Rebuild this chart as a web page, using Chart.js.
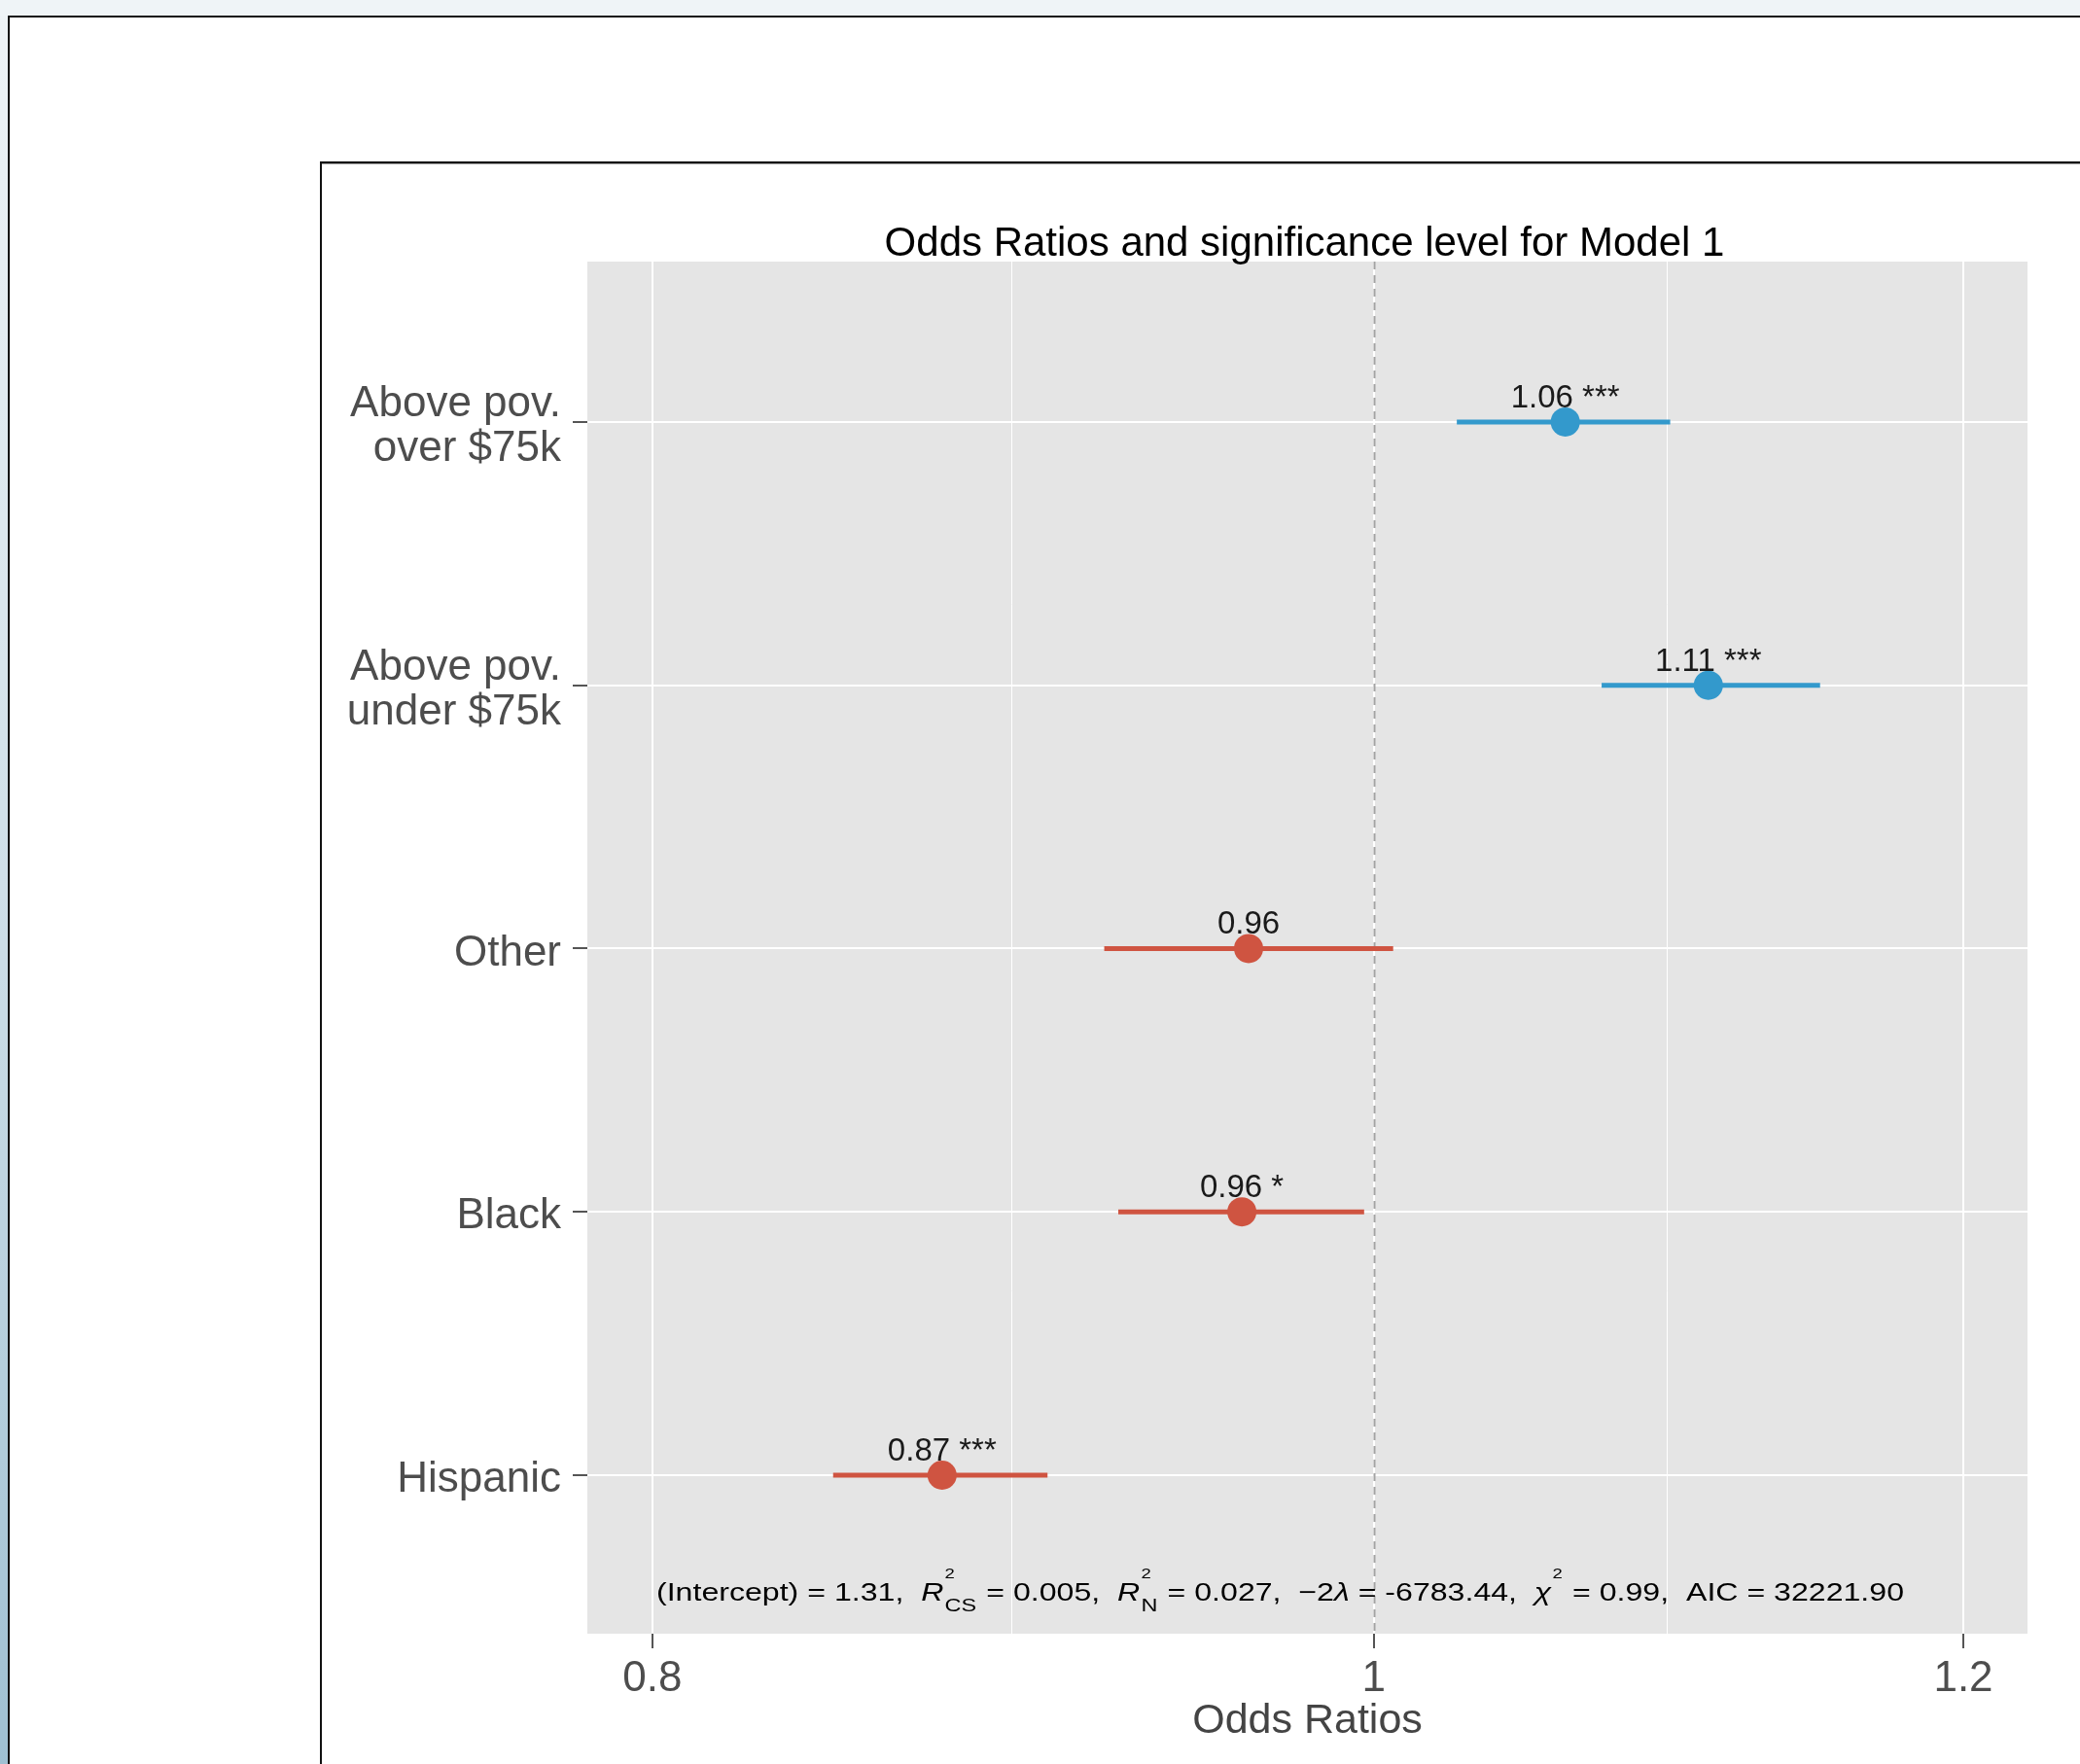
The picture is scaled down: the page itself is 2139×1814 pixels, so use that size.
<!DOCTYPE html>
<html>
<head>
<meta charset="utf-8">
<script src="https://cdn.jsdelivr.net/npm/chart.js@4.4.1/dist/chart.umd.min.js"></script>
<style>
html,body{margin:0;padding:0;background:#fff;width:2139px;height:1814px;overflow:hidden;}
#topband{position:absolute;left:0;top:0;width:2139px;height:16px;background:#eff4f7;}
#leftband{position:absolute;left:0;top:16px;width:8px;height:1798px;background:linear-gradient(#eef3f6,#cfdfe8 50%,#9fc0d2);}
#outerTop{position:absolute;left:8px;top:16px;width:2131px;height:2px;background:#111;}
#outerLeft{position:absolute;left:8px;top:16px;width:2px;height:1798px;background:#111;}
#innerTop{position:absolute;left:329px;top:166px;width:1810px;height:2px;background:#111;}
#innerTop2{position:absolute;left:331px;top:168px;width:1808px;height:1px;background:#999;}
#innerLeft{position:absolute;left:329px;top:166px;width:2px;height:1648px;background:#111;}
canvas{position:absolute;left:0;top:0;}
</style>
</head>
<body>
<div id="topband"></div>
<div id="leftband"></div>
<div id="outerTop"></div>
<div id="outerLeft"></div>
<div id="innerTop"></div>
<div id="innerTop2"></div>
<div id="innerLeft"></div>
<canvas id="c" width="2139" height="1814"></canvas>
<script>
// ---------- data ----------
const categories = [["Above pov.", "over $75k"], ["Above pov.", "under $75k"], "Other", "Black", "Hispanic"];
const oddsRatios = [1.061, 1.109, 0.962, 0.960, 0.875];
const ciLower    = [1.026, 1.073, 0.920, 0.924, 0.846];
const ciUpper    = [1.096, 1.148, 1.006, 0.997, 0.904];
const valueLabels = ["1.06", "1.11", "0.96", "0.96", "0.87"];
const significance = ["***", "***", "", "*", "***"];
const xMajorTicks = [0.8, 1, 1.2];
const xTickLabels = ["0.8", "1", "1.2"];
const xMinorTicks = [0.894, 1.095];
const chartTitle = "Odds Ratios and significance level for Model 1";
const xAxisTitle = "Odds Ratios";
const statIntercept = "1.31";
const statR2CS = "0.005";
const statR2N = "0.027";
const statM2LL = "-6783.44";
const statChi2 = "0.99";
const statAIC = "32221.90";

// ---------- styling ----------
const FONT = '"Liberation Sans", Arial, Helvetica, sans-serif';
const BLUE = '#3399cc';
const RED = '#cf5441';
const colorFor = v => v > 1 ? BLUE : RED;
const idx = categories.map((_, i) => i);
const isMajor = v => xMajorTicks.some(m => Math.abs(m - v) < 1e-9);

const ciDatasets = idx.map(i => ({
  type: 'line',
  data: [{x: ciLower[i], y: i}, {x: ciUpper[i], y: i}],
  borderColor: colorFor(oddsRatios[i]),
  borderWidth: 5,
  borderCapStyle: 'butt',
  pointRadius: 0,
  fill: false,
  order: 2
}));
const pointDataset = {
  type: 'scatter',
  data: idx.map(i => ({x: oddsRatios[i], y: i})),
  pointRadius: 15,
  pointHoverRadius: 15,
  pointBackgroundColor: idx.map(i => colorFor(oddsRatios[i])),
  pointBorderWidth: 0,
  order: 1
};

const panelPlugin = {
  id: 'panel',
  beforeDraw(chart) {
    const {ctx, chartArea: a} = chart;
    ctx.save();
    ctx.fillStyle = '#e5e5e5';
    ctx.fillRect(a.left, a.top, a.right - a.left, a.bottom - a.top);
    ctx.restore();
  },
  beforeDatasetsDraw(chart) {
    const {ctx, chartArea: a, scales: {x}} = chart;
    const px = Math.round(x.getPixelForValue(1)) + 0.5;
    ctx.save();
    ctx.strokeStyle = '#a3a3a3';
    ctx.lineWidth = 2;
    ctx.setLineDash([8, 6]);
    ctx.beginPath();
    ctx.moveTo(px, a.top);
    ctx.lineTo(px, a.bottom);
    ctx.stroke();
    ctx.restore();
  },
  afterDatasetsDraw(chart) {
    const {ctx, scales: {x, y}} = chart;
    ctx.save();
    ctx.font = '33px ' + FONT;
    ctx.fillStyle = '#1a1a1a';
    ctx.textAlign = 'center';
    ctx.textBaseline = 'alphabetic';
    idx.forEach(i => {
      const t = significance[i] ? valueLabels[i] + ' ' + significance[i] : valueLabels[i];
      ctx.fillText(t, x.getPixelForValue(oddsRatios[i]), y.getPixelForValue(i) - 15);
    });
    ctx.restore();
  },
  afterDraw(chart) {
    const {ctx, chartArea: a} = chart;
    // title
    ctx.save();
    ctx.font = '42px ' + FONT;
    ctx.fillStyle = '#000';
    ctx.textAlign = 'center';
    ctx.textBaseline = 'middle';
    ctx.fillText(chartTitle, (a.left + a.right) / 2 - 3, a.top - 18);
    ctx.restore();
    // model statistics
    const base = '26px ' + FONT, ital = 'italic 26px ' + FONT;
    const supF = '15px ' + FONT, subF = '19px ' + FONT;
    const segs = [
      {t: '(Intercept) = ' + statIntercept + ',  ', f: base},
      {t: 'R', f: ital}, {sup: '2', sub: 'CS'},
      {t: ' = ' + statR2CS + ',  ', f: base},
      {t: 'R', f: ital}, {sup: '2', sub: 'N'},
      {t: ' = ' + statR2N + ',  ', f: base},
      {t: '\u22122', f: base}, {t: '\u03bb', f: ital},
      {t: ' = ' + statM2LL + ',  ', f: base},
      {t: '\u03c7', f: ital}, {sup: '2', sub: ''},
      {t: ' = ' + statChi2 + ',  ', f: base},
      {t: 'AIC = ' + statAIC, f: base}
    ];
    ctx.save();
    let total = 0;
    segs.forEach(s => {
      if (s.t !== undefined) { ctx.font = s.f; s.w = ctx.measureText(s.t).width; }
      else { ctx.font = supF; const w1 = ctx.measureText(s.sup).width; ctx.font = subF; const w2 = ctx.measureText(s.sub).width; s.w = Math.max(w1, w2) + 2; }
      total += s.w;
    });
    const x0 = a.left + 71, targetW = 1283, baseY = a.bottom - 34;
    const sx = targetW / total;
    ctx.translate(x0, 0);
    ctx.scale(sx, 1);
    ctx.fillStyle = '#000';
    ctx.textAlign = 'left';
    ctx.textBaseline = 'alphabetic';
    let cx = 0;
    segs.forEach(s => {
      if (s.t !== undefined) { ctx.font = s.f; ctx.fillText(s.t, cx, baseY); }
      else {
        ctx.font = supF; ctx.fillText(s.sup, cx + 1, baseY - 23);
        ctx.font = subF; ctx.fillText(s.sub, cx + 1, baseY + 11);
      }
      cx += s.w;
    });
    ctx.restore();
  }
};

new Chart(document.getElementById('c'), {
  type: 'scatter',
  data: {datasets: [pointDataset, ...ciDatasets]},
  options: {
    responsive: false,
    animation: false,
    devicePixelRatio: 1,
    layout: {padding: {left: 0, right: 54, top: 269, bottom: 0}},
    plugins: {legend: {display: false}, tooltip: {enabled: false}, title: {display: false}},
    scales: {
      x: {
        type: 'logarithmic',
        position: 'bottom',
        min: 0.78407,
        max: 1.22406,
        afterBuildTicks: s => { s.ticks = [...xMajorTicks, ...xMinorTicks].sort((p, q) => p - q).map(v => ({value: v})); },
        afterFit: s => { s.height = 134; },
        ticks: {
          autoSkip: false, maxRotation: 0, minRotation: 0, padding: 5,
          font: {family: FONT, size: 44, lineHeight: 1.2}, color: '#4d4d4d',
          callback: v => { const k = xMajorTicks.findIndex(m => Math.abs(m - v) < 1e-9); return k >= 0 ? xTickLabels[k] : ''; }
        },
        grid: {
          color: '#ffffff',
          lineWidth: c => (c.tick && isMajor(c.tick.value)) ? 2 : 1,
          tickLength: 15,
          tickColor: c => (c.tick && isMajor(c.tick.value)) ? '#555555' : 'rgba(0,0,0,0)',
          tickWidth: 2
        },
        border: {display: false},
        title: {display: true, text: xAxisTitle, font: {family: FONT, size: 43, lineHeight: 1.2}, color: '#444444', padding: {top: 0, bottom: 18}}
      },
      y: {
        type: 'linear',
        reverse: true,
        min: -0.609,
        max: categories.length - 0.398,
        afterBuildTicks: s => { s.ticks = idx.map(i => ({value: i})); },
        afterFit: s => { s.width = 604; },
        ticks: {
          autoSkip: false, padding: 12, labelOffset: 5,
          font: {family: FONT, size: 44, lineHeight: 1.05}, color: '#4d4d4d',
          callback: v => categories[v]
        },
        grid: {color: '#ffffff', lineWidth: 2, tickLength: 15, tickColor: '#555555', tickWidth: 2},
        border: {display: false}
      }
    }
  },
  plugins: [panelPlugin]
});
</script>
</body>
</html>
